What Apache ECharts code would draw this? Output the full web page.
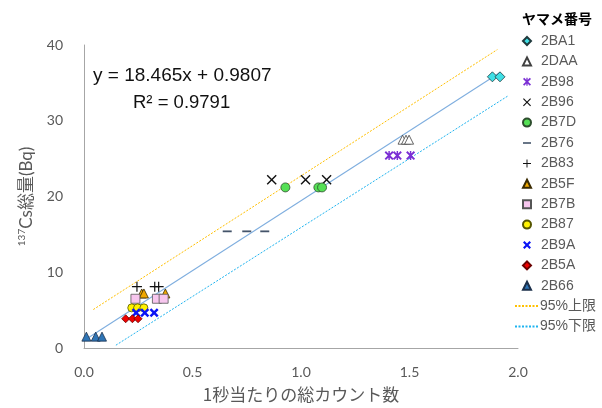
<!DOCTYPE html>
<html>
<head>
<meta charset="utf-8">
<script src="https://cdn.jsdelivr.net/npm/echarts@6/dist/echarts.min.js"></script>
<style>
  html, body { margin: 0; padding: 0; background: #fff; }
  #chart { width: 602px; height: 408px; }
</style>
</head>
<body>
<div id="chart"></div>
<script>
// Counts per second (x) and total 137Cs (Bq) (y) for each fish ID
const fishIds = ['2BA1', '2DAA', '2B98', '2B96', '2B7D', '2B76', '2B83', '2B5F', '2B7B', '2B87', '2B9A', '2B5A', '2B66'];

const x2BA1 = [1.882, 1.917];
const y2BA1 = [35.8, 35.8];
const x2DAA = [1.468, 1.484, 1.498];
const y2DAA = [27.5, 27.5, 27.5];
const x2B98 = [1.406, 1.444, 1.505];
const y2B98 = [25.4, 25.4, 25.4];
const x2B96 = [0.865, 1.021, 1.118];
const y2B96 = [22.2, 22.2, 22.2];
const x2B7D = [0.928, 1.080, 1.097];
const y2B7D = [21.2, 21.2, 21.2];
const x2B76 = [0.660, 0.750, 0.833];
const y2B76 = [15.4, 15.4, 15.4];
const x2B83 = [0.244, 0.326, 0.344];
const y2B83 = [8.1, 8.1, 8.1];
const x2B5F = [0.266, 0.276, 0.375];
const y2B5F = [7.2, 7.2, 7.2];
const x2B7B = [0.237, 0.336, 0.367];
const y2B7B = [6.5, 6.5, 6.5];
const x2B87 = [0.220, 0.247, 0.276];
const y2B87 = [5.3, 5.3, 5.3];
const x2B9A = [0.240, 0.280, 0.323];
const y2B9A = [4.65, 4.65, 4.65];
const x2B5A = [0.192, 0.223, 0.249];
const y2B5A = [3.86, 3.86, 3.86];
const x2B66 = [0.011, 0.054, 0.083];
const y2B66 = [1.5, 1.5, 1.5];

// 95% prediction limits
const upperX = [0.043, 1.905];
const upperY = [5.08, 39.4];
const lowerX = [0.147, 1.955];
const lowerY = [0.37, 33.3];
const limitNames = ['95%上限', '95%下限'];

// Linear fit
const fitSlope = 18.465;
const fitIntercept = 0.9807;
const rSquared = 0.9791;
const fitXRange = [0.011, 1.917];

// Axis ticks
const xTicks = [0, 0.5, 1.0, 1.5, 2.0];
const yTicks = [0, 10, 20, 30, 40];

const xs = [x2BA1, x2DAA, x2B98, x2B96, x2B7D, x2B76, x2B83, x2B5F, x2B7B, x2B87, x2B9A, x2B5A, x2B66];
const ys = [y2BA1, y2DAA, y2B98, y2B96, y2B7D, y2B76, y2B83, y2B5F, y2B7B, y2B87, y2B9A, y2B5A, y2B66];
const pairs = (a, b) => a.map((v, i) => [v, b[i]]);

// Marker shapes
const P_X = 'path://M0,1 L1,0 L5,4 L9,0 L10,1 L6,5 L10,9 L9,10 L5,6 L1,10 L0,9 L4,5 Z';
const P_XBOLD = 'path://M0,1.9 L1.9,0 L5,3.1 L8.1,0 L10,1.9 L6.9,5 L10,8.1 L8.1,10 L5,6.9 L1.9,10 L0,8.1 L3.1,5 Z';
const P_STAR = 'path://M0,1.5 L1.5,0 L5,3.5 L8.5,0 L10,1.5 L6.5,5 L10,8.5 L8.5,10 L5,6.5 L1.5,10 L0,8.5 L3.5,5 Z M4.2,0 H5.8 V10 H4.2 Z';
const P_PLUS = 'path://M4.4,0 H5.6 V4.4 H10 V5.6 H5.6 V10 H4.4 V5.6 H0 V4.4 H4.4 Z';
const P_DASH = 'path://M0,0 H10 V2 H0 Z';

const markerStyles = {
  '2BA1': { symbol: 'diamond', size: 10, color: '#3FE0E6', border: '#1f3a3d' },
  '2DAA': { symbol: 'triangle', size: 9, color: '#ffffff', border: '#404040' },
  '2B98': { symbol: P_STAR, size: 9, color: '#7B2FD4', border: null },
  '2B96': { symbol: P_X, size: 10, color: '#111111', border: null },
  '2B7D': { symbol: 'circle', size: 9, color: '#55E055', border: '#2d4d2d' },
  '2B76': { symbol: P_DASH, size: 9, color: '#44546A', border: null },
  '2B83': { symbol: P_PLUS, size: 10, color: '#111111', border: null },
  '2B5F': { symbol: 'triangle', size: 9, color: '#F0A800', border: '#3a2a00' },
  '2B7B': { symbol: 'rect', size: 9, color: '#F7C6EE', border: '#555555' },
  '2B87': { symbol: 'circle', size: 8, color: '#FFF200', border: '#555500' },
  '2B9A': { symbol: P_XBOLD, size: 9, color: '#0A14F5', border: null },
  '2B5A': { symbol: 'diamond', size: 8, color: '#F00000', border: '#6b0000' },
  '2B66': { symbol: 'triangle', size: 9, color: '#2E75B6', border: '#1b2f4a' }
};

const series = fishIds.map((id, i) => {
  const s = markerStyles[id];
  return {
    name: id,
    type: 'scatter',
    data: pairs(xs[i], ys[i]),
    symbol: s.symbol,
    symbolSize: s.size,
    symbolKeepAspect: true,
    itemStyle: {
      color: s.color,
      borderColor: s.border || s.color,
      borderWidth: s.border ? 0.8 : 0,
      opacity: 1
    },
    z: 5
  };
});

series.unshift({
  name: 'fit',
  type: 'line',
  data: fitXRange.map(x => [x, fitSlope * x + fitIntercept]),
  symbol: 'none',
  lineStyle: { color: '#7FAEDF', width: 1.1 },
  silent: true,
  z: 2
});

series.push({
  name: limitNames[0],
  type: 'line',
  data: pairs(upperX, upperY),
  symbol: 'none',
  itemStyle: { color: '#FFC000' },
  lineStyle: { color: '#FFC000', width: 1, type: [2, 1.5] },
  z: 2
});
series.push({
  name: limitNames[1],
  type: 'line',
  data: pairs(lowerX, lowerY),
  symbol: 'none',
  itemStyle: { color: '#1FB4F0' },
  lineStyle: { color: '#1FB4F0', width: 1, type: [2, 1.5] },
  z: 2
});

const legendText = { fontFamily: '"Liberation Sans", Arial, "Noto Sans CJK JP"', fontSize: 14, color: '#595959', lineHeight: 14 };

const chart = echarts.init(document.getElementById('chart'), null, { renderer: 'canvas' });
chart.setOption({
  animation: false,
  backgroundColor: '#ffffff',
  title: {
    text: 'ヤマメ番号',
    left: 517,
    top: 7,
    textStyle: { fontFamily: '"Noto Sans CJK JP"', fontSize: 14, fontWeight: 'bold', color: '#000' }
  },
  legend: [
    {
      orient: 'vertical',
      left: 522,
      top: 34,
      padding: 0,
      data: fishIds,
      itemWidth: 8,
      itemHeight: 8,
      itemGap: 6.4,
      textStyle: Object.assign({ padding: [0, 0, 0, 5] }, legendText)
    },
    {
      orient: 'vertical',
      left: 514,
      top: 299,
      padding: 0,
      data: limitNames,
      itemWidth: 23,
      itemHeight: 10,
      itemGap: 6.4,
      itemStyle: { color: 'rgba(0,0,0,0)', borderWidth: 0 },
      textStyle: Object.assign({ padding: [0, 0, 0, -3] }, legendText)
    }
  ],
  grid: { left: 84, right: 84, top: 45, bottom: 58, containLabel: false },
  xAxis: {
    type: 'value',
    min: xTicks[0],
    max: xTicks[xTicks.length - 1],
    interval: xTicks[1] - xTicks[0],
    splitLine: { show: false },
    axisTick: { show: false },
    axisLine: { lineStyle: { color: '#A6A6A6', width: 1 } },
    axisLabel: { margin: 17, fontFamily: 'Lato, "Open Sans", sans-serif', fontSize: 14, color: '#595959', formatter: v => v.toFixed(1) },
    name: '1秒当たりの総カウント数',
    nameLocation: 'middle',
    nameGap: 38,
    nameTextStyle: { fontFamily: '"Noto Sans CJK JP"', fontSize: 17, color: '#595959' }
  },
  yAxis: {
    type: 'value',
    min: yTicks[0],
    max: yTicks[yTicks.length - 1],
    interval: yTicks[1] - yTicks[0],
    splitLine: { show: false },
    axisTick: { show: false },
    axisLine: { show: true, lineStyle: { color: '#A6A6A6', width: 1 } },
    axisLabel: { margin: 21, fontFamily: 'Lato, "Open Sans", sans-serif', fontSize: 14, color: '#595959' },
    name: '{sup|137}{main|Cs総量(Bq)}',
    nameLocation: 'middle',
    nameGap: 47,
    nameTextStyle: {
      rich: {
        sup: { fontFamily: 'Lato, sans-serif', fontSize: 10, color: '#595959', verticalAlign: 'top', lineHeight: 20 },
        main: { fontFamily: 'Lato, "Noto Sans CJK JP", sans-serif', fontSize: 17, color: '#595959', lineHeight: 20 }
      }
    }
  },
  graphic: [
    {
      type: 'text', left: 93, top: 66,
      style: { text: 'y = ' + fitSlope + 'x + ' + fitIntercept, fontFamily: '"Liberation Sans", Arial', fontSize: 19, fill: '#111' }
    },
    {
      type: 'text', left: 133, top: 93,
      style: { text: 'R² = ' + rSquared, fontFamily: '"Liberation Sans", Arial', fontSize: 18.5, fill: '#111' }
    }
  ],
  series: series
});
</script>
</body>
</html>
